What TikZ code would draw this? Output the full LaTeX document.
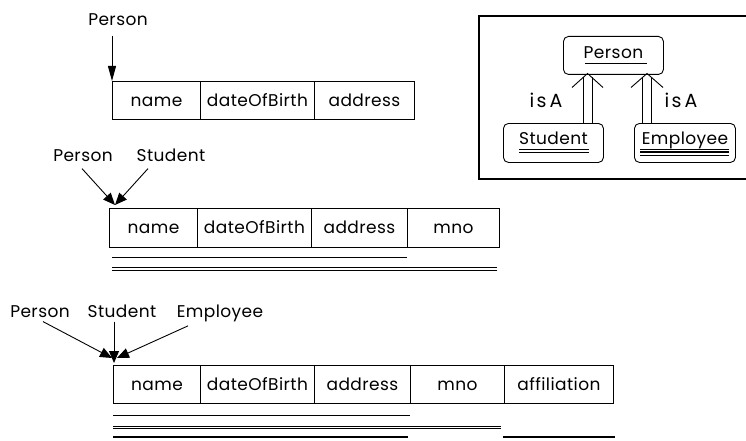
\documentclass[tikz,border=0pt]{standalone}
\usepackage{fontspec}
\setmainfont[LetterSpace=2.5]{Poppins}
\usetikzlibrary{arrows.meta,calc}

\begin{document}
\begin{tikzpicture}[x=1pt,y=-1pt,
  font=\fontsize{17}{19}\selectfont,
  line width=0.9pt,
  cell/.style={draw, anchor=north west, minimum height=38pt, inner sep=0pt,
    text height=12pt, text depth=0pt},
  lbl/.style={anchor=base, inner sep=0pt},
  ptr/.style={-{Triangle[length=15pt,width=8pt]}},
  sptr/.style={-{Triangle[length=12pt,width=10pt]}},
  ent/.style={draw, rounded corners=5pt, anchor=north west, inner sep=0pt,
    text height=12pt},
  frame/.style={draw, line width=1.1pt},
  thick line/.style={line width=2pt}]
\useasboundingbox (0,0) rectangle (746,441);

% ---- Person record ----
\node[cell, minimum width=88pt]  (a1) at (112,81) {name};
\node[cell, minimum width=114pt] (a2) at (200,81) {dateOfBirth};
\node[cell, minimum width=100pt] (a3) at (314,81) {address};
\node[lbl] (p1) at (118,26) {Person};
\draw[ptr] ($(p1.south)+(-6,9)$) -- (a1.north west);

% ---- Student record ----
\node[cell, minimum width=88pt, minimum height=39pt]  (b1) at (109,208) {name};
\node[cell, minimum width=114pt, minimum height=39pt] (b2) at (197,208) {dateOfBirth};
\node[cell, minimum width=96pt, minimum height=39pt]  (b3) at (311,208) {address};
\node[cell, minimum width=92pt, minimum height=39pt]  (b4) at (407,208) {mno};
\node[lbl] (p2) at (83,161) {Person};
\node[lbl] (s2) at (171,161) {Student};
\coordinate (t2) at (115,205);
\draw[sptr] ($(p2.south)+(-1,7)$) -- (t2);
\draw[sptr] ($(s2.south)+(-23,7)$) -- (t2);
\draw (112,257) -- (407,257);
\draw (112,267) -- (497,267);
\draw (112,270.5) -- (497,270.5);

% ---- Employee record ----
\node[cell, minimum width=87pt]  (c1) at (113,365) {name};
\node[cell, minimum width=114pt] (c2) at (200,365) {dateOfBirth};
\node[cell, minimum width=96pt]  (c3) at (314,365) {address};
\node[cell, minimum width=94pt]  (c4) at (410,365) {mno};
\node[cell, minimum width=109pt] (c5) at (504,365) {affiliation};
\node[lbl] (p3) at (40,317) {Person};
\node[lbl] (s3) at (122,317) {Student};
\node[lbl] (e3) at (220,317) {Employee};
\coordinate (tp3) at (112,358);
\coordinate (ts3) at (114,363);
\coordinate (te3) at (117,358);
\draw[sptr] ($(p3.south)+(3,4)$) -- (tp3);
\draw[sptr] ($(s3.south)+(-8,4)$) -- (ts3);
\draw[sptr] ($(e3.south)+(-32,4)$) -- (te3);
\draw (113,415) -- (410,415);
\draw[line width=0.8pt] (113,426) -- (501,426);
\draw[line width=0.8pt] (113,428.4) -- (501,428.4);
\draw[thick line] (113,437) -- (408,437);
\draw[thick line] (503,437) -- (615,437);

% ---- isA hierarchy ----
\draw[frame] (479,16) rectangle (752,179);
\node[ent, minimum width=100pt, minimum height=38pt, text depth=6pt] (pe) at (563,36) {Person};
\node[ent, minimum width=100pt, minimum height=39pt, text depth=9pt] (st) at (503,123) {Student};
\node[ent, minimum width=101pt, minimum height=39pt, text depth=9pt] (em) at (634,123) {Employee};
% key underlines
\draw (585,63) -- (647,63);
\draw (519,149) -- (589,149);
\draw (519,152) -- (589,152);
\draw (640,149) -- (729,149);
\draw[line width=1.5pt] (640,152.2) -- (729,152.2);
\draw[line width=1.5pt] (640,155.4) -- (729,155.4);
% isA links
\coordinate (ha) at (587.5,73.5);
\coordinate (hb) at (647,73.5);
\draw ($(st.north -| ha)+(-4.5,0)$) -- ($(ha)+(-4.5,4)$);
\draw ($(st.north -| ha)+(4.5,0)$) -- ($(ha)+(4.5,4)$);
\draw ($(ha)+(-15.5,14)$) -- (ha) -- ($(ha)+(15.5,14)$);
\draw ($(em.north -| hb)+(-4.5,0)$) -- ($(hb)+(-4.5,4)$);
\draw ($(em.north -| hb)+(4.5,0)$) -- ($(hb)+(4.5,4)$);
\draw ($(hb)+(-16,14)$) -- (hb) -- ($(hb)+(16,14)$);
\node[lbl, font=\fontsize{19}{21}\selectfont] (i1) at (546,108) {i\kern2.5pt s\kern3pt A};
\node[lbl, font=\fontsize{19}{21}\selectfont] (i2) at (681,108) {i\kern2.5pt s\kern3pt A};
\end{tikzpicture}
\end{document}
